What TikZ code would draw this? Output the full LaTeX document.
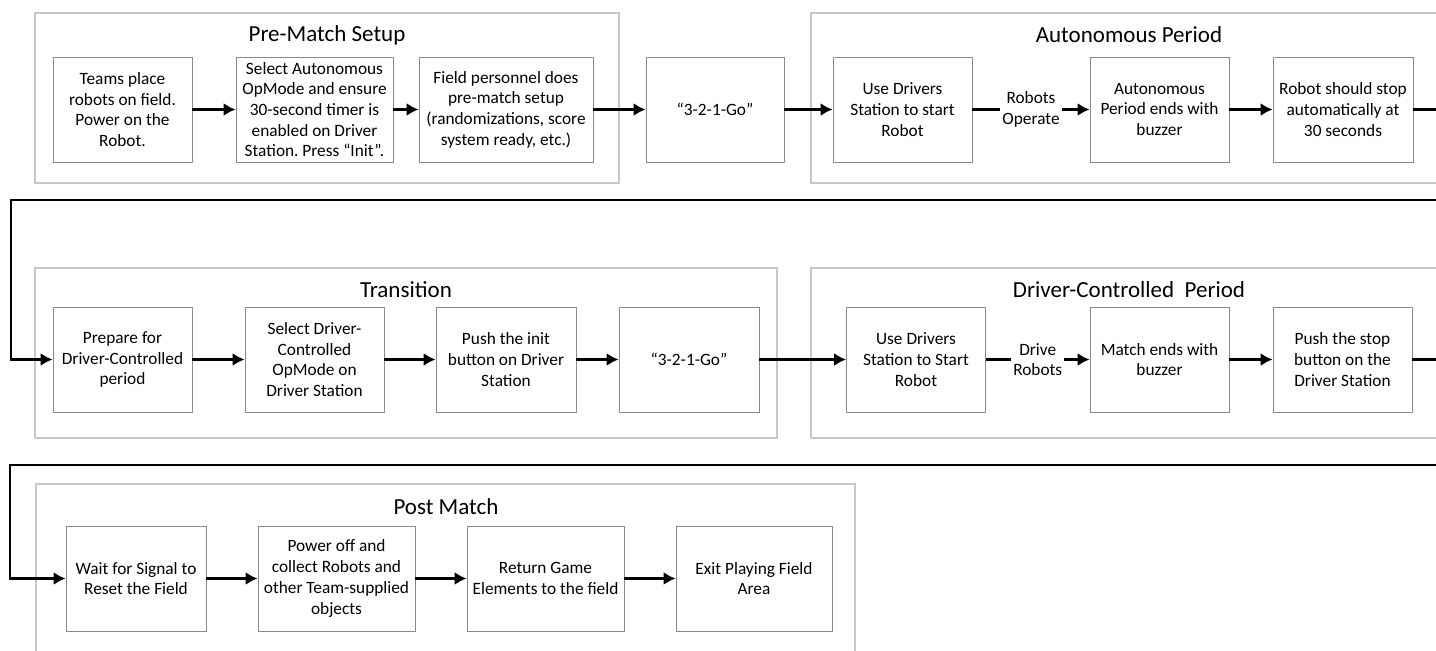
\documentclass[tikz,border=0pt]{standalone}
\usepackage{fontspec}
\setmainfont{Carlito}
\usepackage{tikz}
\usetikzlibrary{arrows.meta}
\usetikzlibrary{positioning}

\definecolor{boxgray}{HTML}{8A8A8A}
\definecolor{grpgray}{HTML}{C8C8C8}
\frenchspacing

\begin{document}
\begin{tikzpicture}[x=1pt,y=-1pt,
        every node/.style={font=\fontsize{17.3}{20.7}\selectfont,align=center},
        task/.style={draw=boxgray,line width=0.9pt,fill=white,minimum height=105pt,
            minimum width=#1,inner sep=0.5pt},
        task/.default=139pt,
        group/.style={draw=grpgray,line width=1.6pt},
        title/.style={font=\fontsize{23}{27}\selectfont,inner sep=0pt},
        flow/.style={-{Latex[length=12pt,width=13pt]},line width=2.2pt},
        lbl/.style={fill=white,inner sep=2pt},
  ]
    \useasboundingbox (0,0) rectangle (1436,651);
    \clip (0,0) rectangle (1436,651);

    % group frames
    \draw[group] (35,13) rectangle (619,183);
    \draw[group] (811,13) rectangle (1460,183);
    \draw[group] (35,268) rectangle (777,438);
    \draw[group] (811,268) rectangle (1460,438);
    \draw[group] (36,484) rectangle (855,680);

    \node[title] (tpre) at (327,35) {Pre-Match Setup};
    \node[title] (tauto) at (1129,35) {Autonomous Period};
    \node[title] (ttrans) at (406,290) {Transition};
    \node[title] (tdriver) at (1129,290) {Driver-Controlled\ \ Period};
    \node[title] (tpost) at (446,507) {Post Match};

    % first row
    \node[task] (place) at (122.5,109.5) {Teams place\\robots on field.\\Power on the\\Robot.};
    \node[task=157pt] (selauto) at (314.5,109.5) {Select Autonomous\\OpMode and ensure\\30-second timer is\\enabled on Driver\\Station. Press “Init”.};
    \node[task=174pt] (setup) at (506,109.5) {Field personnel does\\pre-match setup\\(randomizations, score\\system ready, etc.)};
    \node[task=138pt] (goauto) at (715,109.5) {“3-2-1-Go”};
    \node[task] (startauto) at (902.5,109.5) {Use Drivers\\Station to start\\Robot};
    \node[task] (endauto) at (1159.5,109.5) {Autonomous\\Period ends with\\buzzer};
    \node[task=140pt] (stopauto) at (1343,109.5) {Robot should stop\\automatically at\\30 seconds};

    % second row
    \node[task] (prepare) at (122.5,359.5) {Prepare for\\Driver-Controlled\\period};
    \node[task] (seldriver) at (314.5,359.5) {Select Driver-\\Controlled\\OpMode on\\Driver Station};
    \node[task=140pt] (init) at (506,359.5) {Push the init\\button on Driver\\Station};
    \node[task=140pt] (godriver) at (689,359.5) {“3-2-1-Go”};
    \node[task] (startdriver) at (916,359.5) {Use Drivers\\Station to Start\\Robot};
    \node[task] (enddriver) at (1159.5,359.5) {Match ends with\\buzzer};
    \node[task] (stopdriver) at (1342.5,359.5) {Push the stop\\button on the\\Driver Station};

    % third row
    \node[task=140pt] (wait) at (136,578.5) {Wait for Signal to\\Reset the Field};
    \node[task=157pt] (collect) at (336.5,578.5) {Power off and\\collect Robots and\\other Team-supplied\\objects};
    \node[task=157pt] (elements) at (545.5,578.5) {Return Game\\Elements to the field};
    \node[task=156pt] (exit) at (754,578.5) {Exit Playing Field\\Area};

    \coordinate (rturn1) at (1452,200);
    \coordinate (lturn1) at (11,200);
    \coordinate (rturn2) at (1452,465);
    \coordinate (lturn2) at (10,465);

    % connectors
    \draw[flow] (place) -- (selauto);
    \draw[flow] (selauto) -- (setup);
    \draw[flow] (setup) -- (goauto);
    \draw[flow] (goauto) -- (startauto);
    \draw[flow] (startauto) -- node[lbl] {Robots\\Operate} (endauto);
    \draw[flow] (endauto) -- (stopauto);
    \draw[flow] (stopauto.east) -| (rturn1) -- (lturn1) |- (prepare.west);

    \draw[flow] (prepare) -- (seldriver);
    \draw[flow] (seldriver) -- (init);
    \draw[flow] (init) -- (godriver);
    \draw[flow] (godriver) -- (startdriver);
    \draw[flow] (startdriver) -- node[lbl] {Drive\\Robots} (enddriver);
    \draw[flow] (enddriver) -- (stopdriver);
    \draw[flow] (stopdriver.east) -| (rturn2) -- (lturn2) |- (wait.west);

    \draw[flow] (wait) -- (collect);
    \draw[flow] (collect) -- (elements);
    \draw[flow] (elements) -- (exit);
\end{tikzpicture}
\end{document}
